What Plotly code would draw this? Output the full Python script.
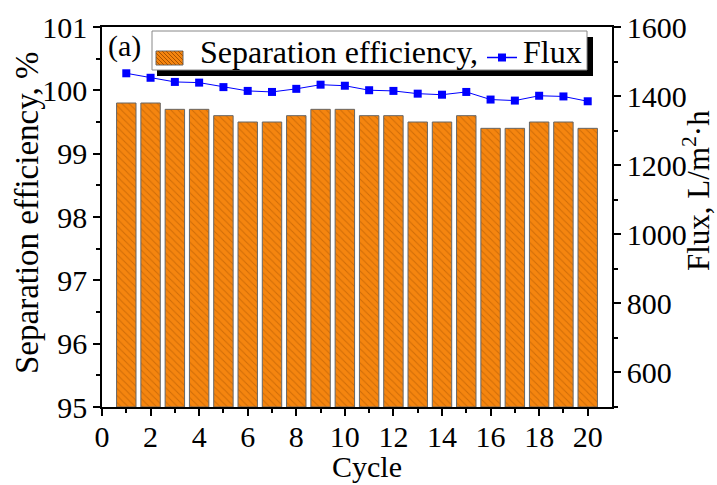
import plotly.graph_objects as go

cycles = list(range(1, 21))
efficiency = [99.8, 99.8, 99.7, 99.7, 99.6, 99.5, 99.5, 99.6, 99.7, 99.7,
              99.6, 99.6, 99.5, 99.5, 99.6, 99.4, 99.4, 99.5, 99.5, 99.4]
flux = [1466, 1453, 1441, 1439, 1426, 1415, 1412, 1421, 1433, 1430,
        1417, 1415, 1407, 1404, 1412, 1390, 1387, 1401, 1399, 1385]

BAR_NAME = "Separation efficiency,"
LINE_NAME = "Flux"

FONT = "Liberation Serif, Times New Roman, serif"
W, H = 717, 485
ML, MR, MT, MB = 102, 105, 27, 78
BAR_COLOR = "#F5850F"
HATCH_COLOR = "#A85200"
LINE_COLOR = "#0000FF"


def px(x):
    return (x - ML) / (W - ML - MR)


def py(y):
    return (H - MB - y) / (H - MT - MB)


fig = go.Figure()
fig.add_trace(go.Bar(
    x=cycles, y=[e - 95 for e in efficiency], base=95, width=0.8,
    name=BAR_NAME, showlegend=False,
    marker=dict(color=BAR_COLOR, line=dict(color="#666666", width=1),
                pattern=dict(shape="\\", fgcolor=HATCH_COLOR, size=5, solidity=0.2)),
))
fig.add_trace(go.Scatter(
    x=cycles, y=flux, yaxis="y2", mode="lines+markers", name=LINE_NAME, showlegend=False,
    line=dict(color=LINE_COLOR, width=1),
    marker=dict(symbol="square", size=8, color=LINE_COLOR),
))

axis_common = dict(showline=True, linecolor="black", linewidth=1.5, ticks="outside",
                   ticklen=7, tickwidth=1.5, tickcolor="black", showgrid=False, zeroline=False,
                   automargin=False,
                   tickfont=dict(family=FONT, size=30, color="black"))

fig.update_layout(
    width=W, height=H,
    margin=dict(l=ML, r=MR, t=MT, b=MB),
    plot_bgcolor="white", paper_bgcolor="white",
    font=dict(family=FONT, color="black"),
    showlegend=False,
    xaxis=dict(range=[0, 21], tickvals=list(range(0, 21, 2)), ticklabelstandoff=-5,
               minor=dict(tickvals=list(range(1, 21, 2)), ticks="outside", ticklen=4, tickcolor="black"),
               mirror=True, **axis_common),
    yaxis=dict(range=[95, 101], dtick=1,
               minor=dict(dtick=0.5, ticks="outside", ticklen=4, tickcolor="black"),
               **axis_common),
    yaxis2=dict(range=[500, 1600], tickvals=[600, 800, 1000, 1200, 1400, 1600],
                overlaying="y", side="right",
                minor=dict(tickvals=[500, 700, 900, 1100, 1300, 1500], ticks="outside", ticklen=4, tickcolor="black"),
                **axis_common),
)

# axis titles
fig.add_annotation(text="Cycle", x=px(367), y=py(466), xref="paper", yref="paper",
                   xanchor="center", yanchor="middle", showarrow=False, borderpad=0,
                   font=dict(family=FONT, size=30, color="black"))
fig.add_annotation(text="Separation efficiency, %", x=px(27), y=py(213), xref="paper", yref="paper",
                   xanchor="center", yanchor="middle", textangle=-90, showarrow=False,
                   font=dict(family=FONT, size=33, color="black"))
fig.add_annotation(text="Flux, L/m<sup>2</sup>·h", x=px(696), y=py(191), xref="paper", yref="paper",
                   xanchor="center", yanchor="middle", textangle=-90, showarrow=False, borderpad=0,
                   font=dict(family=FONT, size=31, color="black"))
fig.add_annotation(text="(a)", x=px(106), y=py(46), xref="paper", yref="paper",
                   xanchor="left", yanchor="middle", showarrow=False,
                   font=dict(family=FONT, size=30, color="black"))

# legend box with drop shadow
lx0, lx1, ly0, ly1 = 152, 587, 31, 70
fig.add_shape(type="rect", xref="paper", yref="paper", x0=px(lx0 + 5), x1=px(lx1 + 6),
              y0=py(ly1 + 6), y1=py(ly0 + 6), fillcolor="black", line=dict(width=0), layer="above")
fig.add_shape(type="rect", xref="paper", yref="paper", x0=px(lx0), x1=px(lx1),
              y0=py(ly1), y1=py(ly0), fillcolor="white", line=dict(color="#888888", width=1), layer="above")
# bar key
sx0, sx1, sy0, sy1 = 156, 183, 51, 65
fig.add_shape(type="rect", xref="paper", yref="paper", x0=px(sx0), x1=px(sx1),
              y0=py(sy1), y1=py(sy0), fillcolor=BAR_COLOR, line=dict(color="#666666", width=1), layer="above")
segs = []
c = sx0 - sy1
while c <= sx1 - sy0:
    ya = max(sy0, sx0 - c)
    yb = min(sy1, sx1 - c)
    if yb > ya:
        segs.append(f"M{px(ya + c)},{py(ya)} L{px(yb + c)},{py(yb)}")
    c += 4
fig.add_shape(type="path", xref="paper", yref="paper", path=" ".join(segs),
              line=dict(color=HATCH_COLOR, width=1), layer="above")
fig.add_annotation(text=BAR_NAME, x=px(198), y=py(52), xref="paper", yref="paper",
                   xanchor="left", yanchor="middle", showarrow=False,
                   font=dict(family=FONT, size=32, color="black"))
# line key
fig.add_shape(type="line", xref="paper", yref="paper", x0=px(487), x1=px(517), y0=py(57.5), y1=py(57.5),
              line=dict(color=LINE_COLOR, width=1.5), layer="above")
fig.add_shape(type="rect", xref="paper", yref="paper", x0=px(498), x1=px(506), y0=py(61.5), y1=py(53.5),
              fillcolor=LINE_COLOR, line=dict(width=0), layer="above")
fig.add_annotation(text=LINE_NAME, x=px(521), y=py(52), xref="paper", yref="paper",
                   xanchor="left", yanchor="middle", showarrow=False,
                   font=dict(family=FONT, size=32, color="black"))

fig.write_html("out.html", config={"displayModeBar": False},
               post_script="document.body.style.margin='0px';")
